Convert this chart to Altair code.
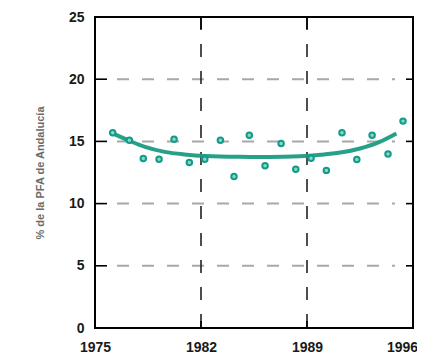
import altair as alt
import pandas as pd

# Observed points (year position, % de la PFA)
pt_x = [1976.17, 1977.27, 1978.19, 1979.23, 1980.22, 1981.23, 1982.25, 1983.28, 1984.18, 1985.19,
        1986.23, 1987.29, 1988.26, 1989.27, 1990.28, 1991.31, 1992.29, 1993.30, 1994.35, 1995.34]
pt_y = [15.69, 15.10, 13.63, 13.57, 15.18, 13.31, 13.57, 15.10, 12.18, 15.50,
        13.04, 14.84, 12.77, 13.65, 12.67, 15.69, 13.55, 15.50, 13.98, 16.63]

# Fitted trend curve
curve_x = [1976.1, 1977.3, 1978.3, 1979.6, 1980.9, 1982.3, 1984.5, 1986.5, 1988.5, 1989.9,
           1991.2, 1992.5, 1993.8, 1994.9]
curve_y = [15.69, 15.04, 14.56, 14.16, 13.95, 13.82, 13.76, 13.75, 13.80, 13.92,
           14.10, 14.43, 14.96, 15.64]

x_ticks = [1975, 1982, 1989, 1996]
y_ticks = [0, 5, 10, 15, 20, 25]
h_grid = [5, 10, 15, 20]
v_grid = [1982, 1989]

W, H = 318, 311
FONT = "Liberation Sans, Arial"

xscale = alt.Scale(domain=[1975, 1996], nice=False, zero=False)
yscale = alt.Scale(domain=[0, 25], nice=False)

x_axis = alt.Axis(values=x_ticks, format="d", ticks=False, domain=False, grid=False,
                  labelFont=FONT, labelFontSize=14, labelFontWeight="bold",
                  labelColor="#1a1a1a", labelPadding=12, labelFlush=False, title=None,
                  labelOffset={"expr": "datum.value == 1996 ? -11 : 0"})
y_axis = alt.Axis(values=y_ticks, format="d", ticks=False, domain=False, grid=False,
                  labelFont=FONT, labelFontSize=14, labelFontWeight="bold",
                  labelColor="#1a1a1a", labelPadding=11,
                  title="% de la PFA de Andalucía", titleFont=FONT, titleFontSize=11,
                  titleFontWeight="bold", titleColor="#6a6a6a", titleX=-55, titleY=H / 2,
                  titleAngle=-90, titleAlign="center", titleBaseline="middle")

pts = pd.DataFrame({"x": pt_x, "y": pt_y})
crv = pd.DataFrame({"x": curve_x, "y": curve_y})
hg = pd.DataFrame({"y": h_grid})
vg = pd.DataFrame({"x": v_grid})

X = alt.X("x:Q", scale=xscale, axis=x_axis)
Y = alt.Y("y:Q", scale=yscale, axis=y_axis)

hgrid = alt.Chart(hg).mark_rule(color="#a8a8a8", strokeWidth=2, strokeDash=[12, 13]).encode(
    y=Y, x=alt.value(22), x2=alt.value(W - 18))
vgrid = alt.Chart(vg).mark_rule(color="#222222", strokeWidth=1.6, strokeDash=[13, 14]).encode(
    x=X, y=alt.value(0), y2=alt.value(H))
lt = alt.Chart(hg).mark_rule(color="black", strokeWidth=1.6).encode(
    y=Y, x=alt.value(0), x2=alt.value(12))
rt = alt.Chart(hg).mark_rule(color="black", strokeWidth=1.6).encode(
    y=Y, x=alt.value(W - 7), x2=alt.value(W))
bt = alt.Chart(vg).mark_rule(color="black", strokeWidth=1.6).encode(
    x=X, y=alt.value(H - 7), y2=alt.value(H))
tt = alt.Chart(vg).mark_rule(color="black", strokeWidth=1.6).encode(
    x=X, y=alt.value(0), y2=alt.value(12))

curve = alt.Chart(crv).mark_line(color="#1a9c82", strokeWidth=4, interpolate="monotone",
                                 opacity=0.95).encode(x=X, y=Y)
points = alt.Chart(pts).mark_point(shape="circle", filled=True, fill="#8fd6c8",
                                   stroke="#109c88", strokeWidth=2, size=30,
                                   opacity=1).encode(x=X, y=Y)

chart = alt.layer(hgrid, vgrid, lt, rt, bt, tt, curve, points).properties(
    width=W, height=H,
    background="white",
    autosize=alt.AutoSizeParams(type="none"),
    padding={"left": 87, "top": 9, "right": 4, "bottom": 30},
).configure_view(stroke="black", strokeWidth=2)

chart.save("out.html", embed_options={"renderer": "svg", "actions": False})
